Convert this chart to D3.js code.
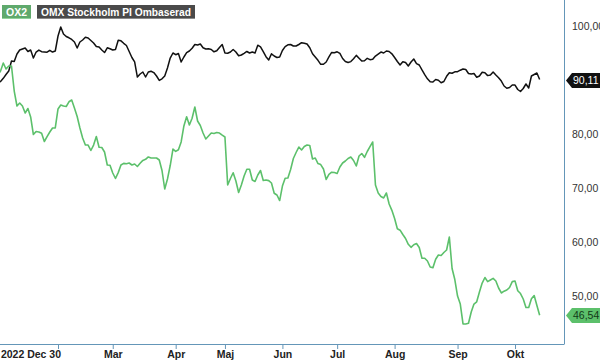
<!DOCTYPE html>
<html><head><meta charset="utf-8">
<script src="https://cdn.jsdelivr.net/npm/d3@7"></script>
<style>html,body{margin:0;padding:0;background:#fff;}svg{display:block;font-family:"Liberation Sans",Arial,sans-serif;}</style>
</head><body>
<svg id="chart" width="600" height="361"></svg>
<script>
// Trading-day index (0 = 2022-12-30) for x-axis ticks
const xTickDays = [0, 22, 42, 65, 83, 104, 124, 145, 168, 189];
const xTickLabels = ["2022 Dec 30", "", "Mar", "Apr", "Maj", "Jun", "Jul", "Aug", "Sep", "Okt"];
const yTicks = [50, 60, 70, 80, 90, 100];
const seriesNames = ["OX2", "OMX Stockholm PI Ombaserad"];

// OMX Stockholm PI (rebased), one value per trading day
const omx = [89.56,89.74,90.33,91.04,91.68,93.53,93.44,94.82,95.56,95.75,
95.93,95.29,95.56,94.08,95.19,95.56,95.25,95.21,95.16,95.51,
95.19,95.38,98.15,99.81,98.52,98.06,97.82,97.51,97.04,95.93,
97.04,97.41,97.91,97.78,97.32,96.86,96.21,96.12,95.56,95.10,
95.97,95.80,95.56,95.65,97.37,97.26,96.80,96.39,95.29,94.18,
93.35,90.57,91.13,91.50,90.57,91.50,91.63,91.39,90.76,89.93,
90.24,90.76,92.24,94.08,95.01,94.69,94.92,93.35,94.27,95.08,
95.38,95.88,96.58,96.49,96.67,95.97,95.75,95.78,95.65,95.23,
95.42,96.03,96.58,95.01,94.97,95.19,95.65,95.19,94.49,94.64,
94.95,95.29,95.01,95.19,95.01,96.45,96.15,95.25,94.32,93.71,
94.86,94.45,94.18,94.27,95.47,96.19,96.52,96.58,96.30,96.30,
96.58,96.91,96.82,96.67,95.97,94.86,94.27,93.66,92.92,92.92,
93.35,94.31,95.12,95.05,95.23,94.92,93.99,93.44,93.25,93.42,
93.95,94.57,94.05,93.53,93.57,94.03,93.77,93.85,94.45,94.82,
95.19,95.01,95.38,95.29,94.86,94.18,93.44,92.79,93.40,93.25,
92.60,93.35,93.90,93.05,92.79,91.87,91.00,90.24,89.69,89.65,
90.11,89.98,89.52,89.74,90.70,91.37,91.27,91.53,91.55,91.83,
92.05,91.96,91.22,91.13,91.22,90.52,90.76,91.44,91.35,90.83,
90.94,91.50,90.94,90.44,89.83,88.91,88.49,88.63,89.09,89.09,
88.26,87.89,88.45,89.28,88.54,90.76,91.04,91.31,90.11];

// OX2 (rebased), one value per trading day
const ox2 = [90.94,91.68,93.16,92.05,92.60,92.60,87.98,85.21,85.77,85.21,
83.92,84.75,83.18,79.94,80.50,80.41,80.17,78.65,79.54,80.41,
81.15,81.15,84.66,85.40,85.21,85.12,85.99,86.32,84.84,83.27,
81.15,79.30,78.00,78.00,76.99,78.00,79.57,77.60,77.54,76.71,
74.31,74.25,72.83,71.81,72.90,74.31,74.60,74.53,74.68,74.31,
74.49,74.03,74.64,75.16,75.36,75.79,75.60,75.60,75.60,75.23,
73.29,69.87,71.72,74.21,77.26,76.82,77.13,78.56,81.52,83.23,
81.70,82.96,85.03,82.44,81.61,80.22,79.11,79.67,80.22,80.13,
80.30,80.22,79.82,79.48,70.61,71.81,72.88,71.35,69.22,70.61,
72.27,73.51,73.51,71.53,71.26,72.46,73.29,71.44,71.53,71.42,
70.98,69.08,68.76,67.74,70.42,71.85,71.90,73.48,75.51,76.62,
77.63,77.08,77.73,78.00,77.91,75.42,75.60,74.58,74.38,73.57,
71.63,72.59,72.98,72.92,72.74,73.94,74.68,75.05,75.51,75.79,
75.14,74.12,75.97,76.43,75.73,76.80,77.69,78.56,70.61,69.13,
68.48,68.21,69.13,67.10,65.93,64.42,62.53,62.26,61.46,60.72,
59.65,59.09,59.56,59.80,59.06,57.06,57.06,56.56,55.45,55.32,
56.88,57.67,57.58,58.13,58.59,61.00,55.18,53.14,50.09,48.61,
44.92,44.92,45.05,47.14,48.61,49.02,50.83,52.49,53.51,52.74,
53.05,53.36,52.87,51.57,50.65,50.98,51.20,51.66,52.75,52.87,
51.07,50.55,49.54,47.97,47.97,49.59,50.18,48.34,46.54];

const svg = d3.select("#chart");
const plotW = 564, plotH = 344;
const x = d3.scaleLinear().domain([0.8, 206.9]).range([0, plotW]);
const y = d3.scaleLinear().domain([50, 100]).range([296.5, 26]);
const sv = d3.formatLocale({decimal: ",", thousands: " ", grouping: [3], currency: ["", ""]}).format(".2f");
const axisColor = "#6496b8";

svg.append("defs").append("clipPath").attr("id", "clip")
  .append("rect").attr("x", 0).attr("y", 0).attr("width", plotW).attr("height", plotH);

const line = d3.line().x((d, i) => x(i)).y(d => y(d));
const g = svg.append("g").attr("clip-path", "url(#clip)");
g.append("path").datum(omx).attr("d", line).attr("fill", "none")
  .attr("stroke", "#111").attr("stroke-width", 1.5).attr("stroke-linejoin", "round");
g.append("path").datum(ox2).attr("d", line).attr("fill", "none")
  .attr("stroke", "#5cc06b").attr("stroke-width", 1.6).attr("stroke-linejoin", "round");

// bottom axis
const xAxis = d3.axisBottom(x).tickValues(xTickDays)
  .tickFormat((d, i) => xTickLabels[i]).tickSize(5).tickSizeOuter(0).tickPadding(2);
const xg = svg.append("g").attr("transform", `translate(0,${plotH})`).call(xAxis);
xg.select(".domain").attr("stroke", axisColor).attr("d", `M0,0.5H${plotW}`);
xg.selectAll(".tick line").attr("stroke", axisColor);
xg.selectAll(".tick text").attr("fill", "#222").attr("font-size", 10.5).attr("font-weight", "bold")
  .attr("font-family", "Liberation Sans, Arial, sans-serif");
xg.selectAll(".tick").filter(d => d === 0).select("text")
  .attr("text-anchor", "start").attr("x", 2.6);

// right axis
svg.append("line").attr("x1", plotW + 0.5).attr("x2", plotW + 0.5).attr("y1", 0).attr("y2", plotH + 0.5)
  .attr("stroke", axisColor).attr("stroke-width", 1);
const yAxis = d3.axisRight(y).tickValues(yTicks).tickFormat(sv).tickSize(0).tickPadding(8);
const yg = svg.append("g").attr("transform", `translate(${plotW},0)`).call(yAxis);
yg.select(".domain").remove();
yg.selectAll(".tick text").attr("fill", "#333").attr("font-size", 10.5)
  .attr("font-family", "Liberation Sans, Arial, sans-serif");

// last value tags
function tag(val, fill, textFill) {
  const yc = Math.round(y(val)) + 0.5;
  const t = svg.append("g");
  t.append("path").attr("d", `M${plotW + 2},${yc} L${plotW + 8},${yc - 7.5} H600 V${yc + 7.5} H${plotW + 8} Z`)
    .attr("fill", fill);
  t.append("text").attr("x", plotW + 9).attr("y", yc).attr("dy", "0.35em")
    .attr("font-size", 10.5).attr("fill", textFill).text(sv(val));
}
tag(omx[omx.length - 1], "#111", "#fff");
tag(ox2[ox2.length - 1], "#5cc06b", "#123a18");

// legend
const lg = svg.append("g");
lg.append("rect").attr("x", 2).attr("y", 5).attr("width", 29).attr("height", 14).attr("fill", "#5fa96c");
lg.append("rect").attr("x", 2).attr("y", 18).attr("width", 29).attr("height", 1).attr("fill", "#8fd39a");
lg.append("text").attr("x", 16.5).attr("y", 12).attr("dy", "0.36em").attr("text-anchor", "middle")
  .attr("font-size", 10.5).attr("font-weight", "bold").attr("fill", "#fff").text(seriesNames[0]);
lg.append("rect").attr("x", 37).attr("y", 5).attr("width", 158).attr("height", 14).attr("fill", "#4a4a4a");
lg.append("rect").attr("x", 37).attr("y", 18).attr("width", 158).attr("height", 1).attr("fill", "#8a8a8a");
lg.append("text").attr("x", 41).attr("y", 12).attr("dy", "0.36em")
  .attr("font-size", 10.5).attr("font-weight", "bold").attr("fill", "#fff")
  .attr("textLength", 150).attr("lengthAdjust", "spacingAndGlyphs").text(seriesNames[1]);
</script>
</body></html>
